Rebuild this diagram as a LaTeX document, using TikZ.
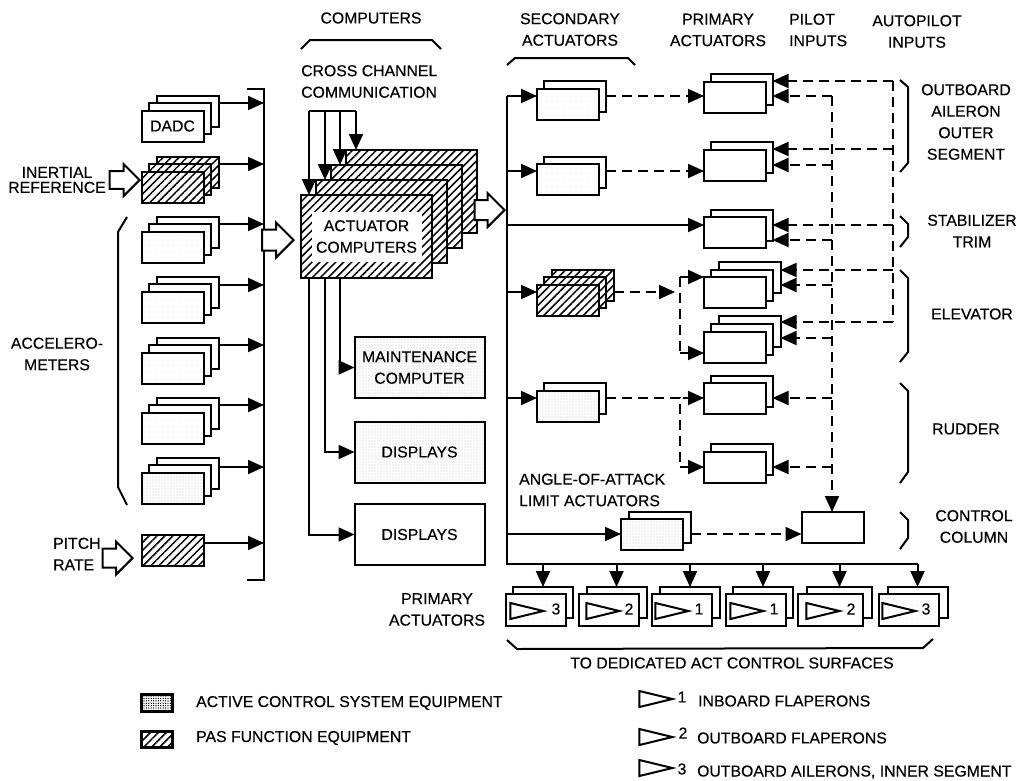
\documentclass[tikz,border=0pt]{standalone}
\usepackage{fontspec}
\setmainfont[FakeBold=0.3]{Liberation Sans}
\usepackage{tikz}
\usetikzlibrary{shapes.geometric, shapes.arrows, arrows.meta, patterns.meta}
\tikzstyle{unit} = [rectangle, draw=black, line width=2pt, fill=white, minimum width=62pt, minimum height=31pt, inner sep=0pt, outer sep=0pt, font=\fontsize{15.8}{21.5}\selectfont, align=center]
\tikzstyle{speckled} = [unit, preaction={fill=white}, pattern={Dots[radius=0.45pt,distance=3pt]}, pattern color=black!65]
\tikzstyle{lightspeckled} = [unit, preaction={fill=white}, pattern={Dots[radius=0.3pt,distance=6pt]}, pattern color=black!35]
\tikzstyle{hatched} = [unit, preaction={fill=white}, pattern={Lines[angle=45,distance=5.6pt,line width=1.5pt]}, pattern color=black]
\tikzstyle{bigbox} = [minimum width=130pt, minimum height=61pt]
\tikzstyle{labeltext} = [font=\fontsize{15.8}{21.5}\selectfont, align=center, inner sep=0pt, text=black]
\tikzstyle{hollow} = [single arrow, draw=black, line width=2pt, fill=white, inner sep=9pt, minimum height=30pt, minimum width=31pt, single arrow head extend=7pt, single arrow tip angle=90, anchor=tip]
\tikzstyle{flap} = [isosceles triangle, isosceles triangle stretches, draw=black, line width=2pt, minimum height=33pt, minimum width=16pt, inner sep=0pt, anchor=apex]
\tikzstyle{wire} = [line width=2pt]
\tikzstyle{arrow} = [wire,-{Triangle[length=16pt,width=14pt]}]
\tikzstyle{dashwire} = [wire, dash pattern=on 10pt off 6pt]
\tikzstyle{dasharrow} = [dashwire,-{Triangle[length=16pt,width=14pt]}]
\tikzstyle{bracket} = [line width=2pt]

\begin{document}
\begin{tikzpicture}[x=1pt,y=-1pt]

    \useasboundingbox (0,0) rectangle (1023,780);

    \node (dadcc) [unit] at (187.5,111) {};
    \node (dadcb) [unit, xshift=-8pt, yshift=-7pt] at (dadcc) {};
    \node (dadc) [unit, xshift=-15pt, yshift=-15pt] at (dadcc) {DADC};

    \node (inerc) [hatched] at (187.5,172) {};
    \node (inerb) [hatched, xshift=-8pt, yshift=-7pt] at (inerc) {};
    \node (iner) [hatched, xshift=-15pt, yshift=-15pt] at (inerc) {};

    \node (acca3) [unit] at (187.5,232.5) {};
    \node (acca2) [unit, xshift=-8pt, yshift=-7pt] at (acca3) {};
    \node (acca) [lightspeckled, xshift=-15pt, yshift=-15pt] at (acca3) {};
    \node (accb3) [unit] at (187.5,292.75) {};
    \node (accb2) [unit, xshift=-8pt, yshift=-7pt] at (accb3) {};
    \node (accb) [lightspeckled, xshift=-15pt, yshift=-15pt] at (accb3) {};
    \node (accc3) [unit] at (187.5,353) {};
    \node (accc2) [unit, xshift=-8pt, yshift=-7pt] at (accc3) {};
    \node (accc) [lightspeckled, xshift=-15pt, yshift=-15pt] at (accc3) {};
    \node (accd3) [unit] at (187.5,413.25) {};
    \node (accd2) [unit, xshift=-8pt, yshift=-7pt] at (accd3) {};
    \node (accd) [lightspeckled, xshift=-15pt, yshift=-15pt] at (accd3) {};
    \node (acce3) [unit] at (187.5,473.5) {};
    \node (acce2) [unit, xshift=-8pt, yshift=-7pt] at (acce3) {};
    \node (acce) [speckled, xshift=-15pt, yshift=-15pt] at (acce3) {};

    \node (pitch) [hatched] at (173,550.5) {};

    \node (inerarrow) [hollow, inner sep=7.5pt, minimum width=32pt] at (141,180) {};
    \node (pitcharrow) [hollow, inner sep=8.5pt] at (134,558) {};

    \coordinate (bustop) at (247,89);
    \coordinate (busa) at (264,89);
    \coordinate (busz) at (264,580);
    \coordinate (busbot) at (247,580);
    \coordinate (bus1) at (264,103);
    \coordinate (bus2) at (264,164);
    \coordinate (bus3) at (264,224);
    \coordinate (bus4) at (264,285);
    \coordinate (bus5) at (264,345);
    \coordinate (bus6) at (264,405);
    \coordinate (bus7) at (264,467);
    \coordinate (bus8) at (264,543);

    \draw [wire] (bustop) -- (busa) -- (busz) -- (busbot);
    \draw [arrow] (dadcc.east |- bus1) -- (bus1);
    \draw [arrow] (inerc.east |- bus2) -- (bus2);
    \draw [arrow] (acca3.east |- bus3) -- (bus3);
    \draw [arrow] (accb3.east |- bus4) -- (bus4);
    \draw [arrow] (accc3.east |- bus5) -- (bus5);
    \draw [arrow] (accd3.east |- bus6) -- (bus6);
    \draw [arrow] (acce3.east |- bus7) -- (bus7);
    \draw [arrow] (pitch.east |- bus8) -- (bus8);

    \node (busarrow) [hollow, minimum width=32pt, inner sep=9.5pt] at (295,240) {};

    \node (comp4) [hatched, minimum width=131pt, minimum height=83pt] at (411.5,191.5) {};
    \node (comp3) [hatched, minimum width=131pt, minimum height=83pt, xshift=-15pt, yshift=-15pt] at (comp4) {};
    \node (comp2) [hatched, minimum width=131pt, minimum height=83pt, xshift=-30pt, yshift=-30pt] at (comp4) {};
    \node (comp1) [hatched, minimum width=131pt, minimum height=83pt, xshift=-45pt, yshift=-45pt] at (comp4) {};
    \node (complabel) [labeltext, fill=white, minimum width=110pt, minimum height=50pt] at (comp1) {ACTUATOR\\COMPUTERS};

    \node (compout) [hollow] at (506,210) {};

    \coordinate (cc1) at (309,111);
    \coordinate (cc2) at (325,111);
    \coordinate (cc3) at (340,111);
    \coordinate (cc4) at (356,111);
    \draw [wire] (cc1) -- (cc4);
    \draw [arrow] (cc1) -- (cc1 |- comp1.north);
    \draw [arrow] (cc2) -- (cc2 |- comp2.north);
    \draw [arrow] (cc3) -- (cc3 |- comp3.north);
    \draw [arrow] (cc4) -- (cc4 |- comp4.north);

    \node (maint) [speckled, bigbox] at (419.5,367.5) {MAINTENANCE\\COMPUTER};
    \node (disp1) [speckled, bigbox] at (419.5,452) {DISPLAYS};
    \node (disp2) [unit, bigbox] at (419.5,534.5) {DISPLAYS};

    \draw [arrow] (cc3 |- comp1.south) |- (maint.west);
    \draw [arrow] (cc2 |- comp1.south) |- (disp1.west);
    \draw [arrow] (cc1 |- comp1.south) |- (disp2.west);

    \node (seca2) [unit] at (575,96.5) {};
    \node (seca) [lightspeckled, xshift=-7pt, yshift=-8pt] at (seca2) {};
    \node (secb2) [unit] at (575,172.5) {};
    \node (secb) [lightspeckled, xshift=-7pt, yshift=-7pt] at (secb2) {};
    \node (secc3) [hatched] at (583,285.5) {};
    \node (secc2) [hatched, xshift=-8pt, yshift=-7pt] at (secc3) {};
    \node (secc) [hatched, xshift=-15pt, yshift=-15pt] at (secc3) {};
    \node (secd2) [unit] at (575,398) {};
    \node (secd) [speckled, xshift=-7pt, yshift=-8pt] at (secd2) {};
    \node (aoa2) [unit] at (660,527) {};
    \node (aoa) [speckled, xshift=-8pt, yshift=-7pt] at (aoa2) {};

    \node (prima2) [unit] at (741.5,89) {};
    \node (prima) [unit, xshift=-6.5pt, yshift=-8pt] at (prima2) {};
    \node (primb2) [unit] at (741.5,157) {};
    \node (primb) [unit, xshift=-6.5pt, yshift=-8.5pt] at (primb2) {};
    \node (stab2) [unit] at (741.5,225) {};
    \node (stab) [unit, xshift=-6.5pt, yshift=-7.5pt] at (stab2) {};
    \node (elea3) [unit] at (749.5,277) {};
    \node (elea2) [unit, xshift=-8pt, yshift=-8pt] at (elea3) {};
    \node (elea) [unit, xshift=-14.5pt, yshift=-15.5pt] at (elea3) {};
    \node (eleb3) [unit] at (749.5,331.5) {};
    \node (eleb2) [unit, xshift=-8pt, yshift=-8pt] at (eleb3) {};
    \node (eleb) [unit, xshift=-14.5pt, yshift=-15.5pt] at (eleb3) {};
    \node (ruda2) [unit] at (741.5,391) {};
    \node (ruda) [unit, xshift=-6.5pt, yshift=-7pt] at (ruda2) {};
    \node (rudb2) [unit] at (741.5,459) {};
    \node (rudb) [unit, xshift=-6.5pt, yshift=-8.5pt] at (rudb2) {};
    \node (column) [unit] at (832.5,527.5) {};

    \coordinate (busb1) at (507,96);
    \coordinate (busb2) at (507,171);
    \coordinate (busb3) at (507,225);
    \coordinate (busb4) at (507,292);
    \coordinate (busb5) at (507,398);
    \coordinate (busb6) at (507,534);
    \coordinate (busb7) at (507,564);
    \draw [wire] (busb1) -- (busb7) -- (917.5,564);
    \draw [arrow] (busb1) -- (seca.west |- busb1);
    \draw [arrow] (busb2) -- (secb.west |- busb2);
    \draw [arrow] (busb3) -- (stab.west |- busb3);
    \draw [arrow] (busb4) -- (secc.west |- busb4);
    \draw [arrow] (busb5) -- (secd.west |- busb5);
    \draw [arrow] (busb6) -- (aoa.west |- busb6);

    \draw [dasharrow] (seca2.east |- busb1) -- (prima.west |- busb1);
    \draw [dasharrow] (secb2.east |- busb2) -- (primb.west |- busb2);
    \draw [dasharrow] (aoa2.east |- busb6) -- (column.west |- busb6);

    \coordinate (elein) at (675,292);
    \coordinate (elet) at (680,277);
    \coordinate (eleu) at (680,353);
    \draw [dasharrow] (secc3.east |- elein) -- (elein);
    \draw [dashwire] (elet) -- (eleu);
    \draw [arrow] (elet) -- (elea.west |- elet);
    \draw [arrow] (eleu) -- (eleb.west |- eleu);

    \coordinate (rudt) at (680,398);
    \coordinate (rudu) at (680,467);
    \draw [dashwire] (secd2.east |- rudt) -- (rudt) -- (rudu);
    \draw [arrow, shorten <=3pt] (rudt) -- (ruda.west |- rudt);
    \draw [arrow] (rudu) -- (rudb.west |- rudu);

    \coordinate (pil1) at (832,96);
    \coordinate (pil2) at (832,165);
    \coordinate (pil3) at (832,240);
    \coordinate (pil4) at (832,285);
    \coordinate (pil5) at (832,338);
    \coordinate (pil6) at (832,398);
    \coordinate (pil7) at (832,467);
    \draw [dasharrow] (pil1) -- (pil1 |- column.north);
    \draw [dasharrow] (pil1) -- (prima2.east |- pil1);
    \draw [dasharrow] (pil2) -- (primb2.east |- pil2);
    \draw [dasharrow] (pil3) -- (stab2.east |- pil3);
    \draw [dasharrow] (pil4) -- (elea3.east |- pil4);
    \draw [dasharrow] (pil5) -- (eleb3.east |- pil5);
    \draw [dasharrow] (pil6) -- (ruda2.east |- pil6);
    \draw [dasharrow] (pil7) -- (rudb2.east |- pil7);

    \coordinate (aut1) at (893,81);
    \coordinate (aut2) at (893,149);
    \coordinate (aut3) at (893,225);
    \coordinate (aut4) at (893,270);
    \coordinate (aut5) at (893,322);
    \draw [dashwire] (aut1) -- (aut5);
    \draw [dasharrow] (aut1) -- (prima2.east |- aut1);
    \draw [dasharrow] (aut2) -- (primb2.east |- aut2);
    \draw [dasharrow] (aut3) -- (stab2.east |- aut3);
    \draw [dasharrow] (aut4) -- (elea3.east |- aut4);
    \draw [dasharrow] (aut5) -- (eleb3.east |- aut5);

    \node (out1b) [unit, minimum width=60pt] at (543,602.5) {};
    \node (out1) [lightspeckled, minimum width=60pt, minimum height=32pt, xshift=-7pt, yshift=-7.5pt] at (out1b) {};
    \node (out2b) [unit, minimum width=60pt] at (616.5,602.5) {};
    \node (out2) [unit, minimum width=60pt, minimum height=32pt, xshift=-8pt, yshift=-7.5pt] at (out2b) {};
    \node (out3b) [unit, minimum width=60pt] at (690,602.5) {};
    \node (out3) [unit, minimum width=60pt, minimum height=32pt, xshift=-8.5pt, yshift=-7.5pt] at (out3b) {};
    \node (out4b) [unit, minimum width=60pt] at (763,602.5) {};
    \node (out4) [unit, minimum width=60pt, minimum height=32pt, xshift=-7pt, yshift=-7.5pt] at (out4b) {};
    \node (out5b) [unit, minimum width=65pt] at (839.5,602.5) {};
    \node (out5) [unit, minimum width=65pt, minimum height=32pt, xshift=-9pt, yshift=-7.5pt] at (out5b) {};
    \node (out6b) [unit, minimum width=60pt] at (917.5,602.5) {};
    \node (out6) [lightspeckled, minimum width=60pt, minimum height=32pt, xshift=-8.5pt, yshift=-7.5pt] at (out6b) {};

    \draw [arrow] (out1b.north |- busb7) -- (out1b.north);
    \draw [arrow] (out2b.north |- busb7) -- (out2b.north);
    \draw [arrow] (out3b.north |- busb7) -- (out3b.north);
    \draw [arrow] (out4b.north |- busb7) -- (out4b.north);
    \draw [arrow] (out5b.north |- busb7) -- (out5b.north);
    \draw [arrow] (out6b.north |- busb7) -- (out6b.north);

    \node (flap1) [flap] at (546,611) {};
    \node (flap2) [flap] at (622,611) {};
    \node (flap3) [flap] at (691,611) {};
    \node (flap4) [flap] at (766,611) {};
    \node (flap5) [flap] at (842,611) {};
    \node (flap6) [flap] at (918,611) {};
    \node (num1) [labeltext] at (556,609) {3};
    \node (num2) [labeltext] at (629,609) {2};
    \node (num3) [labeltext] at (699,609) {1};
    \node (num4) [labeltext] at (774,609) {1};
    \node (num5) [labeltext] at (851,609) {2};
    \node (num6) [labeltext] at (926,609) {3};

    \draw [bracket] (127,217) -- (118,232) -- (118,487) -- (127,505);
    \draw [bracket] (301,49) -- (310,40) -- (432,40) -- (441,49);
    \draw [bracket] (507,65) -- (515,58) -- (628,58) -- (635,65);
    \draw [bracket] (507,640) -- (517,649) -- (923,648) -- (933,639);
    \draw [bracket] (900,80) -- (908,87) -- (908,163) -- (900,172);
    \draw [bracket] (900,216) -- (908,224) -- (908,237) -- (900,247);
    \draw [bracket] (900,270) -- (908,278) -- (908,352) -- (900,362);
    \draw [bracket] (900,383) -- (908,391) -- (908,472) -- (900,483);
    \draw [bracket] (900,512) -- (908,520) -- (908,538) -- (900,549);

    \node (tcomputers) [labeltext] at (371,18) {COMPUTERS};
    \node (tsecondary) [labeltext] at (570,29.5) {SECONDARY\\ACTUATORS};
    \node (tprimary) [labeltext] at (718,30) {PRIMARY\\ACTUATORS};
    \node (tpilot) [labeltext, align=left, anchor=west] at (789,30) {PILOT\\INPUTS};
    \node (tautopilot) [labeltext] at (917,31.5) {AUTOPILOT\\INPUTS};
    \node (tcross) [labeltext, align=left, anchor=west] at (301,81.5) {CROSS CHANNEL\\COMMUNICATION};
    \node (tinertial) [labeltext] at (57,180) {INERTIAL\\[-6.5pt]REFERENCE};
    \node (taccel) [labeltext] at (57,354) {ACCELERO-\\METERS};
    \node (tpitch) [labeltext, align=left, anchor=west] at (53,554) {PITCH\\RATE};
    \node (taoa) [labeltext, align=left, anchor=west] at (519,490) {ANGLE-OF-ATTACK\\LIMIT ACTUATORS};
    \node (tprimb) [labeltext] at (437,609.5) {PRIMARY\\ACTUATORS};
    \node (tdedicated) [labeltext] at (732,663) {TO DEDICATED ACT CONTROL SURFACES};
    \node (toutboard) [labeltext] at (966,122) {OUTBOARD\\AILERON\\OUTER\\SEGMENT};
    \node (tstab) [labeltext] at (972,231) {STABILIZER\\TRIM};
    \node (televator) [labeltext] at (972,314) {ELEVATOR};
    \node (trudder) [labeltext] at (966,429) {RUDDER};
    \node (tcolumn) [labeltext] at (974,526.5) {CONTROL\\COLUMN};

    \node (legdots) [unit, preaction={fill=white}, pattern={Dots[radius=0.7pt,distance=2.4pt]}, pattern color=black, line width=2.5pt, minimum width=31pt, minimum height=17pt] at (157,703) {};
    \node (leghatch) [hatched, line width=2.5pt, minimum width=31pt, minimum height=16pt] at (157,739.5) {};
    \node (tlegdots) [labeltext, anchor=west] at (196,703) {ACTIVE CONTROL SYSTEM EQUIPMENT};
    \node (tleghatch) [labeltext, anchor=west] at (196,738) {PAS FUNCTION EQUIPMENT};

    \node (legflap1) [flap] at (675,699) {};
    \node (legflap2) [flap] at (675,737) {};
    \node (legflap3) [flap] at (675,768) {};
    \node (legnum1) [labeltext] at (682,697) {1};
    \node (legnum2) [labeltext] at (683,733) {2};
    \node (legnum3) [labeltext] at (682,769) {3};
    \node (tleg1) [labeltext, anchor=west] at (698,701) {INBOARD FLAPERONS};
    \node (tleg2) [labeltext, anchor=west] at (697,738) {OUTBOARD FLAPERONS};
    \node (tleg3) [labeltext, anchor=west] at (697,772) {OUTBOARD AILERONS, INNER SEGMENT};

\end{tikzpicture}
\end{document}
